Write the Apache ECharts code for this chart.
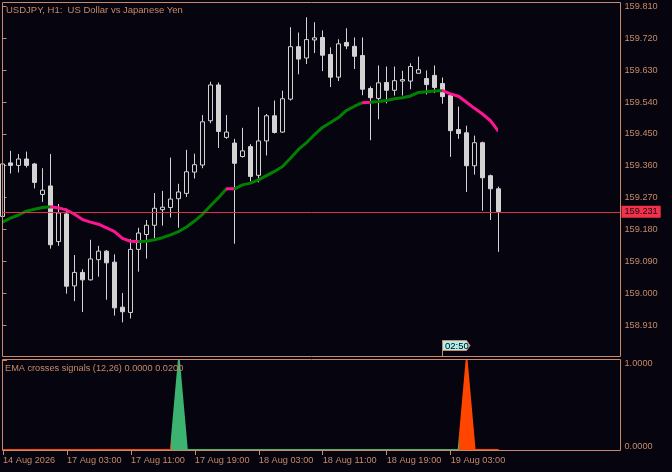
<!DOCTYPE html>
<html><head><meta charset="utf-8">
<script src="https://cdn.jsdelivr.net/npm/echarts@6/dist/echarts.min.js"></script>
<style>html,body{margin:0;padding:0;background:#05040f;}#c{width:672px;height:472px;}</style>
</head><body><div id="c"></div>
<script>
// ---- data ----
const opens = [159.217,159.368,159.361,159.379,159.365,159.279,159.303,159.146,159.224,159.021,159.059,159.038,159.095,159.119,159.088,158.961,158.946,159.124,159.166,159.192,159.236,159.242,159.267,159.282,159.342,159.362,159.487,159.588,159.440,159.424,159.386,159.414,159.333,159.430,159.501,159.455,159.548,159.696,159.664,159.715,159.722,159.674,159.610,159.708,159.697,159.671,159.578,159.550,159.595,159.573,159.599,159.599,159.621,159.606,159.615,159.592,159.558,159.462,159.453,159.360,159.425,159.332,159.295];
const closes = [159.365,159.361,159.379,159.361,159.313,159.291,159.137,159.227,159.020,159.059,159.038,159.097,159.119,159.086,158.959,158.948,159.124,159.170,159.192,159.240,159.243,159.266,159.286,159.343,159.363,159.484,159.588,159.457,159.455,159.367,159.402,159.330,159.430,159.501,159.454,159.549,159.696,159.661,159.716,159.721,159.672,159.610,159.704,159.698,159.669,159.576,159.552,159.594,159.573,159.600,159.603,159.640,159.631,159.589,159.581,159.555,159.459,159.451,159.360,159.425,159.326,159.295,159.231];
const lows = [159.210,159.338,159.341,159.355,159.296,159.258,159.126,159.134,158.999,158.978,158.947,159.036,159.047,158.982,158.937,158.918,158.929,159.061,159.098,159.156,159.191,159.214,159.185,159.272,159.324,159.353,159.480,159.410,159.436,159.140,159.383,159.316,159.313,159.389,159.451,159.453,159.544,159.618,159.647,159.678,159.627,159.582,159.599,159.689,159.633,159.559,159.432,159.491,159.536,159.558,159.558,159.576,159.621,159.561,159.565,159.535,159.385,159.436,159.286,159.335,159.233,159.207,159.117];
const highs = [159.374,159.402,159.393,159.400,159.368,159.353,159.393,159.252,159.239,159.108,159.068,159.151,159.134,159.122,159.110,159.001,159.153,159.185,159.207,159.283,159.289,159.383,159.309,159.405,159.394,159.503,159.597,159.595,159.503,159.436,159.467,159.421,159.526,159.506,159.544,159.572,159.751,159.736,159.779,159.765,159.742,159.694,159.717,159.748,159.722,159.722,159.584,159.643,159.640,159.640,159.628,159.649,159.668,159.629,159.643,159.609,159.561,159.527,159.473,159.445,159.428,159.335,159.301];
const ema = [159.201,159.212,159.221,159.232,159.237,159.242,159.244,159.241,159.235,159.223,159.208,159.201,159.195,159.185,159.174,159.155,159.147,159.146,159.147,159.151,159.157,159.165,159.174,159.187,159.204,159.223,159.247,159.270,159.295,159.295,159.306,159.311,159.320,159.332,159.344,159.358,159.381,159.406,159.425,159.448,159.468,159.482,159.496,159.516,159.528,159.538,159.539,159.541,159.544,159.549,159.552,159.557,159.567,159.569,159.571,159.572,159.563,159.556,159.539,159.522,159.506,159.487,159.457];
const emaUpSegments = [[0,6],[17,28],[29,45],[46,55]];
const emaDownSegments = [[6,17],[28,29],[45,46],[55,62]];
const signals = [0,0,0,0,0,0,0,0,0,0,0,0,0,0,0,0,0,0,0,0,0,0,1,0,0,0,0,0,0,0,0,0,0,0,0,0,0,0,0,0,0,0,0,0,0,0,0,0,0,0,0,0,0,0,0,0,0,0,1,0,0,0,0];
const signalBuySegment = [21,57];
const timeTickBars = [0,8,16,24,32,40,48,56];
const timeTickLabels = ['14 Aug 2026','17 Aug 03:00','17 Aug 11:00','17 Aug 19:00','18 Aug 03:00','18 Aug 11:00','18 Aug 19:00','19 Aug 03:00'];
const lastPrice = 159.231;
const timerText = '02:50';
const mainTitle = 'USDJPY, H1:  US Dollar vs Japanese Yen';
const subTitle = 'EMA crosses signals (12,26) 0.0000 0.0200';

// ---- style ----
const BG = '#05040f', FG = '#c98a68', CANDLE = '#d3d3d3';
const FONT = 'Liberation Sans', FS = 9.2;

const candleData = opens.map((o, i) => [i, o, closes[i], lows[i], highs[i]]);
const emaData = ema.map((v, i) => [i, v]);
const sigData = signals.map((v, i) => [i, v]);

const emaPieces = [];
emaUpSegments.forEach(s => emaPieces.push(s[0] === 0 ? {gte: s[0], lte: s[1], color: '#008000'} : {gt: s[0], lte: s[1], color: '#008000'}));
emaDownSegments.forEach(s => emaPieces.push({gt: s[0], lte: s[1], color: '#ff1493'}));

const chart = echarts.init(document.getElementById('c'), null, {renderer: 'canvas'});
chart.setOption({
  backgroundColor: BG,
  animation: false,
  textStyle: {fontFamily: FONT},
  grid: [
    {left: 2.5, top: 2, width: 618, height: 355.1},
    {left: 2.5, top: 360, width: 618, height: 90}
  ],
  xAxis: [
    {type: 'value', gridIndex: 0, min: 0, max: 77.25, show: false},
    {type: 'value', gridIndex: 1, min: 0, max: 77.25,
      axisLine: {show: false}, splitLine: {show: false},
      axisTick: {show: true, customValues: timeTickBars, length: 5, lineStyle: {color: FG}},
      axisLabel: {customValues: timeTickBars, align: 'left', margin: 6, color: FG, fontSize: FS, fontFamily: FONT,
        formatter: v => { const k = timeTickBars.indexOf(Math.round(v)); return k >= 0 ? timeTickLabels[k] : ''; }}
    }
  ],
  yAxis: [
    {type: 'value', gridIndex: 0, position: 'right', min: 158.82, max: 159.8221, interval: 0.09,
      splitLine: {show: false},
      axisLine: {show: false},
      axisTick: {show: true, length: 4, lineStyle: {color: FG}},
      axisLabel: {color: FG, fontSize: FS, fontFamily: FONT, margin: 4, showMinLabel: false, showMaxLabel: false,
        formatter: v => v.toFixed(3)}
    },
    {type: 'value', gridIndex: 1, position: 'right', min: 0, max: 1, interval: 1,
      splitLine: {show: false},
      axisLine: {show: false},
      axisTick: {show: true, length: 4, lineStyle: {color: FG}},
      axisLabel: {color: FG, fontSize: FS, fontFamily: FONT, margin: 4,
        formatter: v => v >= 1 ? '{a|' + v.toFixed(4) + '}' : '{b|' + v.toFixed(4) + '}',
        rich: {a: {padding: [7, 0, 0, 0], color: FG, fontSize: FS, fontFamily: FONT},
               b: {padding: [0, 0, 8, 0], color: FG, fontSize: FS, fontFamily: FONT}}}
    }
  ],
  visualMap: [
    {type: 'piecewise', show: false, seriesIndex: 1, dimension: 0, pieces: emaPieces},
    {type: 'piecewise', show: false, seriesIndex: 2, dimension: 0, pieces: [
      {lte: signalBuySegment[0], color: '#ff4500'},
      {gt: signalBuySegment[0], lte: signalBuySegment[1], color: '#3cb371'},
      {gt: signalBuySegment[1], color: '#ff4500'}
    ]}
  ],
  series: [
    {type: 'candlestick', xAxisIndex: 0, yAxisIndex: 0, data: candleData, encode: {x: 0, y: [1, 2, 3, 4]},
      barWidth: 4,
      itemStyle: {color: BG, color0: CANDLE, borderColor: CANDLE, borderColor0: CANDLE, borderWidth: 1},
      markLine: {silent: true, symbol: 'none', animation: false,
        lineStyle: {color: '#e0304a', width: 1, type: 'solid'},
        label: {show: true, position: 'end', distance: 1, formatter: lastPrice.toFixed(3),
          backgroundColor: '#f0324b', color: '#1a0508', fontSize: FS, fontFamily: FONT, padding: [2, 3, 1, 3]},
        data: [{yAxis: lastPrice}]}
    },
    {type: 'line', xAxisIndex: 0, yAxisIndex: 0, data: emaData, showSymbol: false, symbol: 'none',
      lineStyle: {width: 3}},
    {type: 'line', xAxisIndex: 1, yAxisIndex: 1, data: sigData, showSymbol: false, symbol: 'none', clip: false,
      lineStyle: {width: 2}, areaStyle: {opacity: 1}}
  ],
  graphic: [
    {type: 'rect', silent: true, z: 100, shape: {x: 2.5, y: 2.5, width: 618, height: 354}, style: {fill: 'none', stroke: FG, lineWidth: 1}},
    {type: 'rect', silent: true, z: 100, shape: {x: 2.5, y: 359.5, width: 618, height: 91}, style: {fill: 'none', stroke: FG, lineWidth: 1}},
    {type: 'text', silent: true, z: 101, x: 6, y: 10, style: {text: mainTitle, fill: FG, font: '9.5px "' + FONT + '"', textVerticalAlign: 'middle'}},
    {type: 'text', silent: true, z: 101, x: 5, y: 368, style: {text: subTitle, fill: FG, font: FS + 'px "' + FONT + '"', textVerticalAlign: 'middle'}},
    {type: 'polygon', silent: true, z: 101, shape: {points: [[442.5, 340.5], [466.5, 340.5], [470, 345.5], [466.5, 350.5], [442.5, 350.5]]},
      style: {fill: '#aeeeee', stroke: FG, lineWidth: 1}},
    {type: 'line', silent: true, z: 101, shape: {x1: 442.5, y1: 340, x2: 442.5, y2: 356}, style: {stroke: FG, lineWidth: 1}},
    {type: 'text', silent: true, z: 102, x: 445, y: 346, style: {text: timerText, fill: '#000000', font: '9.5px "' + FONT + '"', textVerticalAlign: 'middle'}}
  ]
});
</script>
</body></html>
